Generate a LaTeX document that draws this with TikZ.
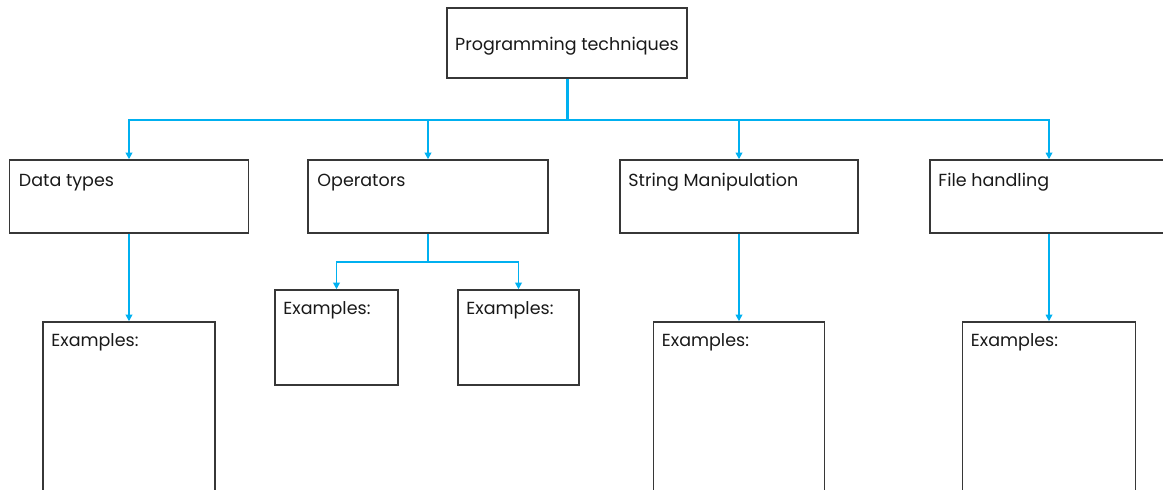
\documentclass[tikz,border=0pt]{standalone}
\usepackage{fontspec}
\setmainfont{Poppins}
\usetikzlibrary{arrows.meta}
\definecolor{linkblue}{RGB}{0,176,240}
\definecolor{boxgray}{RGB}{55,55,55}

\begin{document}
\begin{tikzpicture}[x=1pt, y=1pt, every node/.style={inner sep=0pt}]
	\tikzset{box/.style={draw=boxgray, line width=1.5pt, rectangle},
		caption/.style={anchor=base west, text=black!90, font=\fontsize{17.5}{20}\selectfont},
		wire/.style={draw=linkblue, line width=1.8pt},
		link/.style={wire, -{Triangle[width=6.5pt,length=6.5pt]}}}
	\useasboundingbox (0,0) rectangle (1163,490);
	\clip (0,0) rectangle (1163,490);
	\node[box, minimum width=240pt, minimum height=70pt] (root) at (567,447) {};
	\node[caption, anchor=base] (rootT) at ([yshift=-8]root.center) {Programming techniques};
	\node[box, minimum width=239pt, minimum height=73pt] (data) at (129,293.5) {};
	\node[box, minimum width=240pt, minimum height=73pt] (oper) at (428,293.5) {};
	\node[box, minimum width=238pt, minimum height=73pt] (str) at (739,293.5) {};
	\node[box, minimum width=238pt, minimum height=73pt] (file) at (1049,293.5) {};
	\node[box, minimum width=172pt, minimum height=220pt] (dataEx) at (129,58) {};
	\node[box, minimum width=123pt, minimum height=95pt] (operExA) at (336.5,152.5) {};
	\node[box, minimum width=121pt, minimum height=95pt] (operExB) at (518.5,152.5) {};
	\node[box, minimum width=171pt, minimum height=220pt] (strEx) at (739,58) {};
	\node[box, minimum width=173pt, minimum height=220pt] (fileEx) at (1049,58) {};
	\node[caption] (dataT) at ([shift={(10,-27)}]data.north west) {Data types};
	\node[caption] (operT) at ([shift={(10,-27)}]oper.north west) {Operators};
	\node[caption] (strT) at ([shift={(9,-27)}]str.north west) {String Manipulation};
	\node[caption] (fileT) at ([shift={(9,-27)}]file.north west) {File handling};
	\foreach \n in {dataEx, operExA, operExB, strEx, fileEx}
	\node[caption] (\n T) at ([shift={(9,-25)}]\n.north west) {Examples:};
	\coordinate (bus) at (567,370);
	\coordinate (opbus) at (428,228);
	\draw[wire, line width=3pt] (root.south) -- (bus);
	\foreach \to in {data, oper, str, file}
	\draw[link] (bus) -| (\to.north);
	\draw[wire] (oper.south) -- (opbus);
	\foreach \to in {operExA, operExB}
	\draw[link] (opbus) -| (\to.north);
	\foreach \from/\to in {data/dataEx, str/strEx, file/fileEx}
	\draw[link] (\from.south) -- (\to.north);
\end{tikzpicture}
\end{document}
